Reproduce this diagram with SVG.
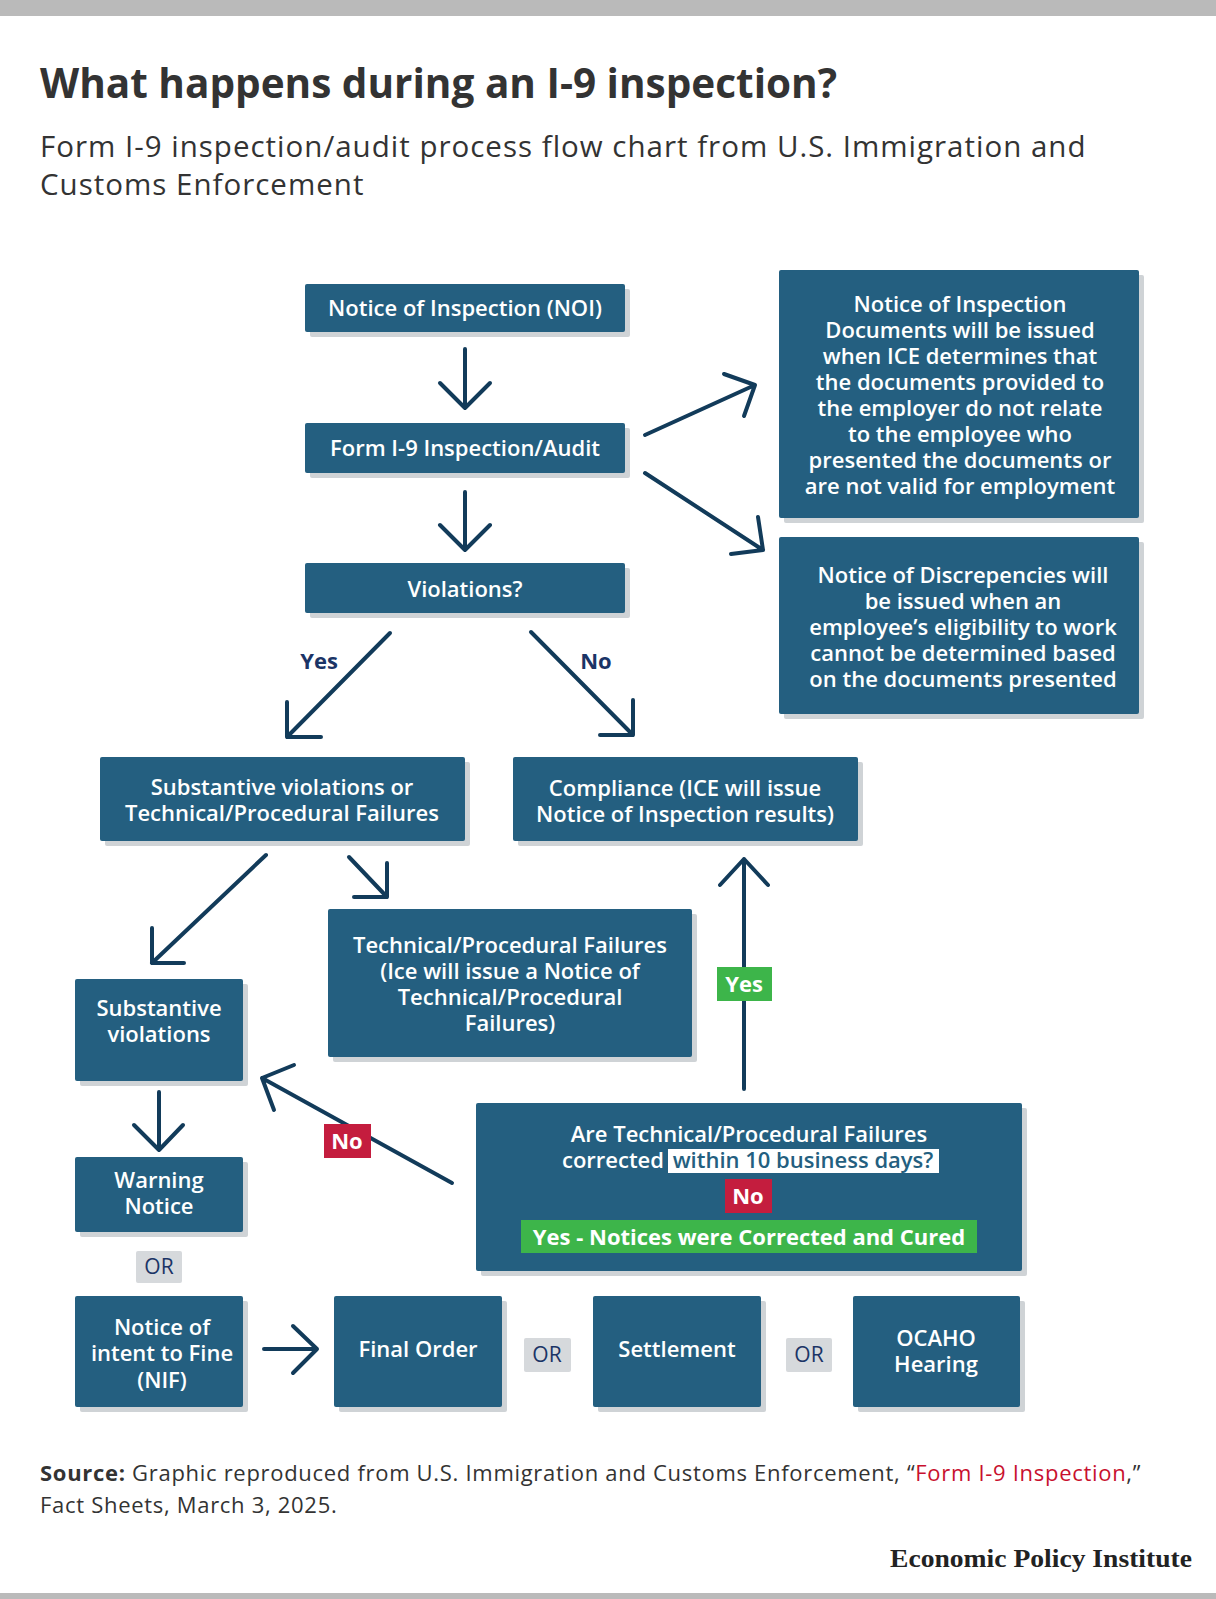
<svg xmlns="http://www.w3.org/2000/svg" width="1216" height="1599" viewBox="0 0 1216 1599">
<defs>
<style>
.bg{fill:#ffffff}
.bar{fill:#bababa}
.box{fill:#245f80}
.sh{fill:#cfd3d6}
.t{font-family:"Open Sans",Lato,"Liberation Sans",sans-serif;font-weight:600;font-size:22px;fill:#ffffff;text-anchor:middle}
.lbl{font-family:"Open Sans",Lato,"Liberation Sans",sans-serif;font-weight:700;font-size:22px;text-anchor:middle}
.navy{fill:#1b3466}
.or{fill:#d6d9dc}
.red{fill:#c41d3e}
.green{fill:#3db54a}
.arr{fill:none;stroke:#123b5a;stroke-width:4;stroke-linecap:round;stroke-linejoin:round}
.title{font-family:"Open Sans",Lato,"Liberation Sans",sans-serif;font-weight:700;font-size:40.5px;fill:#333333}
.sub{font-family:"Open Sans",Lato,"Liberation Sans",sans-serif;font-weight:400;font-size:29.5px;letter-spacing:1px;fill:#333333}
.src{font-family:"Open Sans",Lato,"Liberation Sans",sans-serif;font-weight:400;font-size:22px;letter-spacing:0.7px;fill:#333333}
</style>
</defs>
<rect class="bg" x="0" y="0" width="1216" height="1599"/>
<rect class="bar" x="0" y="0" width="1216" height="16"/>
<rect class="bar" x="0" y="1593" width="1216" height="6"/>
<text class="title" x="40" y="98">What happens during an I-9 inspection?</text>
<text class="sub" x="40" y="157">Form I-9 inspection/audit process flow chart from U.S. Immigration and</text>
<text class="sub" x="40" y="195">Customs Enforcement</text>

<g id="connectors">
<path class="arr" d="M465,349 V408 M440,383 L465,408 L490,383"/>
<path class="arr" d="M465,492 V550 M440,525 L465,550 L490,525"/>
<path class="arr" d="M645,435 L755,385 M724,374 L755,385 L744,416"/>
<path class="arr" d="M645,473 L763,550 M758,517 L763,550 L731,554"/>
<path class="arr" d="M390,633 L287,737 M287,702 L287,737 L321,737"/>
<path class="arr" d="M531,632 L633,735 M633,700 L633,735 L600,735"/>
<path class="arr" d="M266,855 L152,963 M152,928 L152,963 L184,963"/>
<path class="arr" d="M349,857 L387,897 M387,863 L387,897 L354,897"/>
<path class="arr" d="M744,1089 V859 M720,885 L744,859 L768,885"/>
<path class="arr" d="M452,1183 L262,1078 M294,1065 L262,1078 L274,1110"/>
<path class="arr" d="M159,1092 V1150 M134,1125 L159,1150 L183,1125"/>
<path class="arr" d="M264,1349 H317 M293,1326 L317,1349 L293,1373"/>
<text class="lbl navy" x="319" y="669">Yes</text>
<text class="lbl navy" x="596" y="669">No</text>
<rect class="green" x="717" y="967" width="55" height="34"/>
<text class="lbl" fill="#ffffff" x="744" y="992">Yes</text>
<rect class="red" x="324" y="1124" width="47" height="34"/>
<text class="lbl" fill="#ffffff" x="347" y="1149">No</text>
</g>

<g id="noi">
<rect class="sh" x="310" y="289" width="320" height="48" rx="2"/>
<rect class="box" x="305" y="284" width="320" height="48" rx="2"/>
<text class="t" x="465" y="316">Notice of Inspection (NOI)</text>
</g>
<g id="audit">
<rect class="sh" x="310" y="428" width="320" height="50" rx="2"/>
<rect class="box" x="305" y="423" width="320" height="50" rx="2"/>
<text class="t" x="465" y="456">Form I-9 Inspection/Audit</text>
</g>
<g id="violations">
<rect class="sh" x="310" y="568" width="320" height="50" rx="2"/>
<rect class="box" x="305" y="563" width="320" height="50" rx="2"/>
<text class="t" x="465" y="597">Violations?</text>
</g>
<g id="noi-docs">
<rect class="sh" x="784" y="275" width="360" height="248" rx="2"/>
<rect class="box" x="779" y="270" width="360" height="248" rx="2"/>
<text class="t" x="960" y="312">Notice of Inspection</text>
<text class="t" x="960" y="338">Documents will be issued</text>
<text class="t" x="960" y="364">when ICE determines that</text>
<text class="t" x="960" y="390">the documents provided to</text>
<text class="t" x="960" y="416">the employer do not relate</text>
<text class="t" x="960" y="442">to the employee who</text>
<text class="t" x="960" y="468">presented the documents or</text>
<text class="t" x="960" y="494">are not valid for employment</text>
</g>
<g id="discrepancies">
<rect class="sh" x="784" y="542" width="360" height="177" rx="2"/>
<rect class="box" x="779" y="537" width="360" height="177" rx="2"/>
<text class="t" x="963" y="583">Notice of Discrepencies will</text>
<text class="t" x="963" y="609">be issued when an</text>
<text class="t" x="963" y="635">employee’s eligibility to work</text>
<text class="t" x="963" y="661">cannot be determined based</text>
<text class="t" x="963" y="687">on the documents presented</text>
</g>
<g id="svot">
<rect class="sh" x="105" y="762" width="365" height="84" rx="2"/>
<rect class="box" x="100" y="757" width="365" height="84" rx="2"/>
<text class="t" x="282" y="795">Substantive violations or</text>
<text class="t" x="282" y="821">Technical/Procedural Failures</text>
</g>
<g id="compliance">
<rect class="sh" x="518" y="762" width="345" height="84" rx="2"/>
<rect class="box" x="513" y="757" width="345" height="84" rx="2"/>
<text class="t" x="685" y="796">Compliance (ICE will issue</text>
<text class="t" x="685" y="822">Notice of Inspection results)</text>
</g>
<g id="tpf">
<rect class="sh" x="333" y="914" width="364" height="148" rx="2"/>
<rect class="box" x="328" y="909" width="364" height="148" rx="2"/>
<text class="t" x="510" y="953">Technical/Procedural Failures</text>
<text class="t" x="510" y="979">(Ice will issue a Notice of</text>
<text class="t" x="510" y="1005">Technical/Procedural</text>
<text class="t" x="510" y="1031">Failures)</text>
</g>
<g id="substantive">
<rect class="sh" x="80" y="984" width="168" height="102" rx="2"/>
<rect class="box" x="75" y="979" width="168" height="102" rx="2"/>
<text class="t" x="159" y="1016">Substantive</text>
<text class="t" x="159" y="1042">violations</text>
</g>
<g id="question">
<rect class="sh" x="481" y="1108" width="546" height="168" rx="2"/>
<rect class="box" x="476" y="1103" width="546" height="168" rx="2"/>
<text class="t" x="749" y="1142">Are Technical/Procedural Failures</text>
<text class="t" x="664" y="1168" style="text-anchor:end">corrected</text>
<rect x="668" y="1149" width="271" height="24" fill="#ffffff"/>
<text class="t" x="803" y="1168" style="fill:#245f80">within 10 business days?</text>
<rect class="red" x="725" y="1179" width="47" height="34"/>
<text class="lbl" fill="#ffffff" x="748" y="1204">No</text>
<rect class="green" x="521" y="1220" width="456" height="33"/>
<text class="lbl" fill="#ffffff" x="749" y="1245">Yes - Notices were Corrected and Cured</text>
</g>
<g id="warning">
<rect class="sh" x="80" y="1162" width="168" height="75" rx="2"/>
<rect class="box" x="75" y="1157" width="168" height="75" rx="2"/>
<text class="t" x="159" y="1188">Warning</text>
<text class="t" x="159" y="1214">Notice</text>
</g>
<g id="or1">
<rect class="or" x="136" y="1251" width="46" height="32" rx="2"/>
<text class="t" x="159" y="1274" style="font-weight:500;font-size:21px;fill:#1b3466">OR</text>
</g>
<g id="nif">
<rect class="sh" x="80" y="1301" width="168" height="111" rx="2"/>
<rect class="box" x="75" y="1296" width="168" height="111" rx="2"/>
<text class="t" x="162" y="1335">Notice of</text>
<text class="t" x="162" y="1361">intent to Fine</text>
<text class="t" x="162" y="1388">(NIF)</text>
</g>
<g id="final-order">
<rect class="sh" x="339" y="1301" width="168" height="111" rx="2"/>
<rect class="box" x="334" y="1296" width="168" height="111" rx="2"/>
<text class="t" x="418" y="1357">Final Order</text>
</g>
<g id="or2">
<rect class="or" x="524" y="1338" width="47" height="34" rx="2"/>
<text class="t" x="547" y="1362" style="font-weight:500;font-size:21px;fill:#1b3466">OR</text>
</g>
<g id="settlement">
<rect class="sh" x="598" y="1301" width="168" height="111" rx="2"/>
<rect class="box" x="593" y="1296" width="168" height="111" rx="2"/>
<text class="t" x="677" y="1357">Settlement</text>
</g>
<g id="or3">
<rect class="or" x="786" y="1338" width="46" height="34" rx="2"/>
<text class="t" x="809" y="1362" style="font-weight:500;font-size:21px;fill:#1b3466">OR</text>
</g>
<g id="ocaho">
<rect class="sh" x="858" y="1301" width="167" height="111" rx="2"/>
<rect class="box" x="853" y="1296" width="167" height="111" rx="2"/>
<text class="t" x="936" y="1346">OCAHO</text>
<text class="t" x="936" y="1372">Hearing</text>
</g>

<text class="src" x="40" y="1481"><tspan font-weight="700">Source:</tspan> Graphic reproduced from U.S. Immigration and Customs Enforcement, “<tspan fill="#c8102e">Form I-9 Inspection</tspan>,”</text>
<text class="src" x="40" y="1513">Fact Sheets, March 3, 2025.</text>
<text x="1192" y="1567" text-anchor="end" font-family="'Liberation Serif',serif" font-weight="700" font-size="25" fill="#222222" textLength="302" lengthAdjust="spacingAndGlyphs">Economic Policy Institute</text>
</svg>
